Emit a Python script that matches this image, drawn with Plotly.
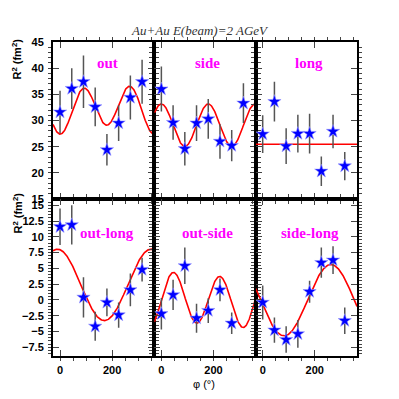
import numpy as np
import plotly.graph_objects as go
from plotly.subplots import make_subplots

# azimuthal angles of the measurements (deg)
phi = [0, 45, 90, 135, 180, 225, 270, 315]

# R^2 values (fm^2) and errors
out_r2 = [31.6, 36.1, 37.4, 32.6, 24.4, 29.5, 34.4, 37.4]
out_err = [4.1, 3.9, 5.0, 3.7, 3.0, 3.4, 4.2, 4.2]

side_r2 = [36.0, 29.6, 24.6, 29.5, 30.3, 26.0, 25.2, 33.3]
side_err = [4.3, 3.3, 3.2, 3.4, 3.8, 3.3, 3.0, 3.8]

long_r2 = [27.4, 33.6, 25.1, 27.5, 27.5, 20.3, 27.9, 21.3]
long_err = [3.6, 3.8, 3.4, 3.6, 3.8, 2.8, 3.2, 2.7]

outlong_r2 = [11.6, 11.9, 0.4, -4.2, -0.4, -2.4, 1.6, 4.8]
outlong_err = [2.9, 3.1, 3.2, 2.3, 2.2, 2.0, 2.6, 1.9]

outside_phi = [0, 45, 90, 135, 180, 225, 270]
outside_r2 = [-2.2, 0.8, 5.4, -2.9, -1.7, 1.6, -3.7]
outside_err = [2.5, 2.4, 2.9, 2.3, 1.95, 1.8, 1.7]

sidelong_r2 = [-0.4, -4.8, -6.3, -5.4, 1.3, 5.9, 6.3, -3.3]
sidelong_err = [2.7, 2.0, 2.1, 2.2, 1.75, 2.4, 2.2, 2.1]

# fit parameters: p0 + c1 cos(phi) + s1 sin(phi) + c2 cos(2phi) + s2 sin(2phi)
out_fit = [32.29, -0.85, -0.18, -4.04, 0.0]
side_fit = [29.1, 0.0, 0.0, 4.05, 0.0]
long_fit = [25.45, 0.0, 0.0, 0.0, 0.0]
outlong_fit = [2.38, 5.58, -0.98, 0.0, 0.0]
outside_fit = [0.0, -0.02, 0.47, 0.0, 4.03]
sidelong_fit = [-0.05, -0.79, -5.6, 0.0, 0.0]

labels = ["out", "side", "long", "out-long", "out-side", "side-long"]

X_RANGE = [-27, 362]


def fourier(p, x):
    r = np.radians(x)
    return (p[0] + p[1] * np.cos(r) + p[2] * np.sin(r)
            + p[3] * np.cos(2 * r) + p[4] * np.sin(2 * r))


panels = [
    (1, 1, phi, out_r2, out_err, out_fit),
    (1, 2, phi, side_r2, side_err, side_fit),
    (1, 3, phi, long_r2, long_err, long_fit),
    (2, 1, phi, outlong_r2, outlong_err, outlong_fit),
    (2, 2, outside_phi, outside_r2, outside_err, outside_fit),
    (2, 3, phi, sidelong_r2, sidelong_err, sidelong_fit),
]

fig = make_subplots(rows=2, cols=3, horizontal_spacing=0, vertical_spacing=0)

xs = np.linspace(X_RANGE[0], X_RANGE[1], 300)
for row, col, x, y, e, p in panels:
    fig.add_trace(go.Scatter(x=xs, y=fourier(p, xs), mode="lines",
                             line=dict(color="red", width=1.6),
                             showlegend=False, hoverinfo="skip"),
                  row=row, col=col)
    fig.add_trace(go.Scatter(x=x, y=y, mode="markers",
                             marker=dict(symbol="star", size=10, color="#0000ff",
                                         line=dict(color="#9a9aff", width=0.6)),
                             error_y=dict(type="data", array=e, color="#555555",
                                          thickness=1.5, width=0),
                             showlegend=False),
                  row=row, col=col)

axis_common = dict(showline=True, linecolor="black", linewidth=2, mirror="allticks",
                   ticks="inside", tickcolor="#444444", tickwidth=1,
                   showgrid=False, zeroline=False, automargin=False,
                   tickfont=dict(family="Liberation Sans, Arial", size=11,
                                 color="black", weight="bold"))

for row in (1, 2):
    for col in (1, 2, 3):
        fig.update_xaxes(range=X_RANGE, tick0=0, dtick=200, ticklen=6,
                         minor=dict(dtick=50, ticklen=3, tickcolor="#444444"),
                         showticklabels=(row == 2), ticklabelstandoff=3,
                         row=row, col=col, **axis_common)
        if row == 1:
            fig.update_yaxes(range=[15, 45], tick0=15, dtick=5, ticklen=6,
                             minor=dict(dtick=1, ticklen=3, tickcolor="#444444"),
                             showticklabels=(col == 1), ticklabelstandoff=5,
                             row=row, col=col, **axis_common)
        else:
            fig.update_yaxes(range=[-8.9, 16], tick0=0, dtick=2.5, ticklen=6,
                             minor=dict(dtick=0.5, ticklen=3, tickcolor="#444444"),
                             showticklabels=(col == 1), ticklabelstandoff=5,
                             row=row, col=col, **axis_common)

# panel labels
label_pos = [(107, 63), (208, 63), (309, 63), (107, 233), (208, 233), (310, 233)]
W, H = 399, 399
ML, MR, MT, MB = 53, 42, 42, 43
pw, ph = W - ML - MR, H - MT - MB


def px(xp, yp):
    return (xp - ML) / pw, (H - MB - yp) / ph


annotations = []
for txt, (xp, yp) in zip(labels, label_pos):
    ax, ay = px(xp, yp)
    annotations.append(dict(text=txt, x=ax, y=ay, xref="paper", yref="paper",
                            showarrow=False, xanchor="center", yanchor="middle",
                            font=dict(family="Liberation Serif, Times New Roman",
                                      size=15, color="#ff00ff", weight="bold")))

# title
tx, ty = px(200, 30)
annotations.append(dict(text="<i>Au+Au E(beam)=2 AGeV</i>", x=tx, y=ty,
                        xref="paper", yref="paper", showarrow=False,
                        xanchor="center", yanchor="middle",
                        font=dict(family="Liberation Serif, Times New Roman",
                                  size=13, color="#333333")))

# y titles
for ytop in (37, 191):
    ax, ay = px(17, ytop)
    annotations.append(dict(text="R<sup>2</sup> (fm<sup>2</sup>)", x=ax, y=ay,
                            xref="paper", yref="paper", showarrow=False,
                            textangle=-90, xanchor="center", yanchor="top",
                            font=dict(family="Liberation Sans, Arial", size=11,
                                      color="black", weight="bold")))

# x title
ax, ay = px(204, 384)
annotations.append(dict(text="φ (°)", x=ax, y=ay, xref="paper", yref="paper",
                        showarrow=False, xanchor="center", yanchor="middle",
                        font=dict(family="Liberation Sans, Arial", size=11,
                                  color="black")))

fig.update_layout(width=W, height=H, autosize=False,
                  margin=dict(l=ML, r=MR, t=MT, b=MB),
                  paper_bgcolor="white", plot_bgcolor="white",
                  annotations=annotations, showlegend=False)

fig.write_html("out.html", config={"displayModeBar": False},
               post_script="document.body.style.margin='0';")
